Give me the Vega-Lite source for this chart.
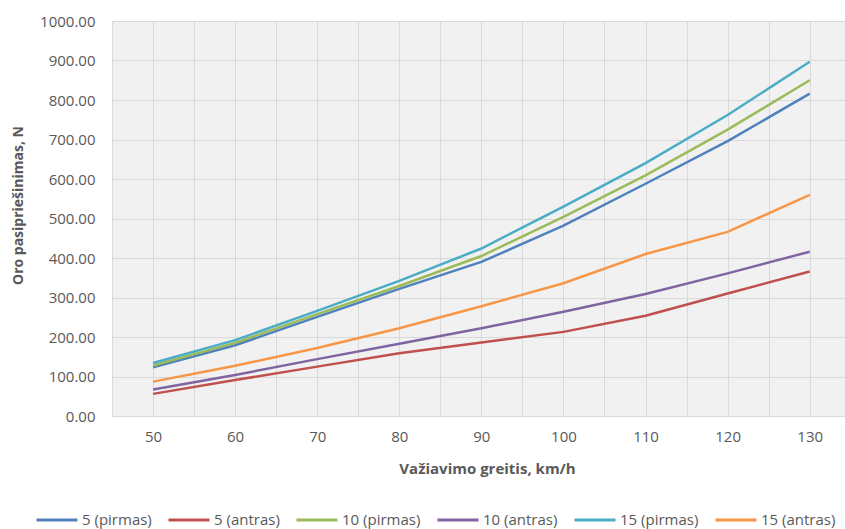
{
  "$schema": "https://vega.github.io/schema/vega-lite/v6.json",
  "width": 733,
  "height": 395,
  "autosize": "none",
  "padding": {"left": 112, "top": 21, "right": 0, "bottom": 113},
  "background": "white",
  "config": {
    "view": {"stroke": null, "fill": "#f1f1f1"},
    "font": "Open Sans"
  },
  "data": {
    "values": [
      {"speed": 50, "series": "5 (pirmas)", "value": 123},
      {"speed": 60, "series": "5 (pirmas)", "value": 179},
      {"speed": 70, "series": "5 (pirmas)", "value": 251},
      {"speed": 80, "series": "5 (pirmas)", "value": 322},
      {"speed": 90, "series": "5 (pirmas)", "value": 390},
      {"speed": 100, "series": "5 (pirmas)", "value": 482},
      {"speed": 110, "series": "5 (pirmas)", "value": 588},
      {"speed": 120, "series": "5 (pirmas)", "value": 696},
      {"speed": 130, "series": "5 (pirmas)", "value": 816},
      {"speed": 50, "series": "5 (antras)", "value": 56},
      {"speed": 60, "series": "5 (antras)", "value": 91},
      {"speed": 70, "series": "5 (antras)", "value": 125},
      {"speed": 80, "series": "5 (antras)", "value": 159},
      {"speed": 90, "series": "5 (antras)", "value": 186},
      {"speed": 100, "series": "5 (antras)", "value": 213},
      {"speed": 110, "series": "5 (antras)", "value": 254},
      {"speed": 120, "series": "5 (antras)", "value": 310},
      {"speed": 130, "series": "5 (antras)", "value": 366},
      {"speed": 50, "series": "10 (pirmas)", "value": 128},
      {"speed": 60, "series": "10 (pirmas)", "value": 185},
      {"speed": 70, "series": "10 (pirmas)", "value": 258},
      {"speed": 80, "series": "10 (pirmas)", "value": 329},
      {"speed": 90, "series": "10 (pirmas)", "value": 405},
      {"speed": 100, "series": "10 (pirmas)", "value": 504},
      {"speed": 110, "series": "10 (pirmas)", "value": 609},
      {"speed": 120, "series": "10 (pirmas)", "value": 725},
      {"speed": 130, "series": "10 (pirmas)", "value": 850},
      {"speed": 50, "series": "10 (antras)", "value": 67},
      {"speed": 60, "series": "10 (antras)", "value": 104},
      {"speed": 70, "series": "10 (antras)", "value": 144},
      {"speed": 80, "series": "10 (antras)", "value": 183},
      {"speed": 90, "series": "10 (antras)", "value": 222},
      {"speed": 100, "series": "10 (antras)", "value": 264},
      {"speed": 110, "series": "10 (antras)", "value": 309},
      {"speed": 120, "series": "10 (antras)", "value": 361},
      {"speed": 130, "series": "10 (antras)", "value": 416},
      {"speed": 50, "series": "15 (pirmas)", "value": 134},
      {"speed": 60, "series": "15 (pirmas)", "value": 192},
      {"speed": 70, "series": "15 (pirmas)", "value": 266},
      {"speed": 80, "series": "15 (pirmas)", "value": 342},
      {"speed": 90, "series": "15 (pirmas)", "value": 424},
      {"speed": 100, "series": "15 (pirmas)", "value": 530},
      {"speed": 110, "series": "15 (pirmas)", "value": 640},
      {"speed": 120, "series": "15 (pirmas)", "value": 762},
      {"speed": 130, "series": "15 (pirmas)", "value": 897},
      {"speed": 50, "series": "15 (antras)", "value": 87},
      {"speed": 60, "series": "15 (antras)", "value": 127},
      {"speed": 70, "series": "15 (antras)", "value": 172},
      {"speed": 80, "series": "15 (antras)", "value": 222},
      {"speed": 90, "series": "15 (antras)", "value": 278},
      {"speed": 100, "series": "15 (antras)", "value": 336},
      {"speed": 110, "series": "15 (antras)", "value": 410},
      {"speed": 120, "series": "15 (antras)", "value": 466},
      {"speed": 130, "series": "15 (antras)", "value": 560}
    ]
  },
  "mark": {"type": "line", "strokeWidth": 2.5, "interpolate": "linear"},
  "encoding": {
    "x": {
      "field": "speed",
      "type": "quantitative",
      "scale": {"domain": [45, 134.3], "nice": false, "zero": false},
      "axis": {
        "values": [45, 50, 55, 60, 65, 70, 75, 80, 85, 90, 95, 100, 105, 110, 115, 120, 125, 130],
        "labelExpr": "datum.value % 10 == 0 ? datum.label : ''",
        "labelOverlap": false,
        "labelFlush": false,
        "ticks": false,
        "grid": true,
        "gridColor": "#d9d9d9",
        "gridWidth": 1,
        "domainColor": "#d9d9d9",
        "domainWidth": 1,
        "labelColor": "#595959",
        "labelFontSize": 15,
        "labelPadding": 13,
        "title": "Važiavimo greitis, km/h",
        "titleColor": "#595959",
        "titleFontSize": 15,
        "titleFontWeight": "bold",
        "titleX": 375,
        "titleY": 52,
        "titleBaseline": "middle",
        "titleAnchor": "middle",
        "titleAlign": "center"
      }
    },
    "y": {
      "field": "value",
      "type": "quantitative",
      "scale": {"domain": [0, 1000], "nice": false},
      "axis": {
        "values": [0, 100, 200, 300, 400, 500, 600, 700, 800, 900, 1000],
        "format": ".2f",
        "ticks": false,
        "domain": false,
        "grid": true,
        "gridColor": "#d9d9d9",
        "gridWidth": 1,
        "labelColor": "#595959",
        "labelFontSize": 15,
        "labelPadding": 17,
        "title": "Oro pasipriešinimas, N",
        "titleColor": "#595959",
        "titleFontSize": 14,
        "titleFontWeight": "bold",
        "titleX": -94,
        "titleY": 184,
        "titleBaseline": "middle",
        "titleAlign": "center",
        "titleAngle": -90
      }
    },
    "color": {
      "field": "series",
      "type": "nominal",
      "scale": {
        "domain": ["5 (pirmas)", "5 (antras)", "10 (pirmas)", "10 (antras)", "15 (pirmas)", "15 (antras)"],
        "range": ["#4F81BD", "#C0504D", "#9BBB59", "#8064A2", "#4BACC6", "#F79646"]
      },
      "legend": {
        "orient": "none",
        "legendX": -77,
        "legendY": 477,
        "direction": "horizontal",
        "columns": 6,
        "title": null,
        "symbolType": "stroke",
        "symbolSize": 1681,
        "symbolStrokeWidth": 3,
        "labelFontSize": 15,
        "labelColor": "#595959",
        "labelOffset": 3,
        "columnPadding": 10,
        "padding": 0,
        "labelLimit": 200
      }
    }
  }
}
